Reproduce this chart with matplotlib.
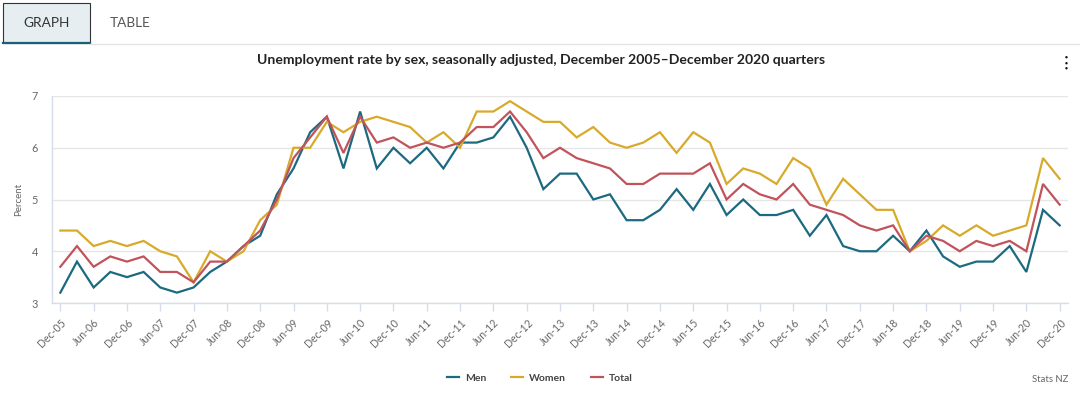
import matplotlib
matplotlib.use("Agg")
import matplotlib.pyplot as plt
from matplotlib.patches import Rectangle
from matplotlib.lines import Line2D

plt.rcParams['font.family'] = ['Lato', 'DejaVu Sans']

years = list(range(2005, 2021))
quarters = []
for y in years:
    for m in ["Mar", "Jun", "Sep", "Dec"]:
        if (y == 2005 and m != "Dec"):
            continue
        quarters.append(f"{m}-{str(y)[2:]}")

men = [3.2, 3.8, 3.3, 3.6, 3.5, 3.6, 3.3, 3.2, 3.3, 3.6, 3.8, 4.1, 4.3, 5.1, 5.6,
       6.3, 6.6, 5.6, 6.7, 5.6, 6.0, 5.7, 6.0, 5.6, 6.1, 6.1, 6.2, 6.6, 6.0, 5.2, 5.5, 5.5,
       5.0, 5.1, 4.6, 4.6, 4.8, 5.2, 4.8, 5.3, 4.7, 5.0, 4.7, 4.7, 4.8, 4.3, 4.7, 4.1, 4.0,
       4.0, 4.3, 4.0, 4.4, 3.9, 3.7, 3.8, 3.8, 4.1, 3.6, 4.8, 4.5]
women = [4.4, 4.4, 4.1, 4.2, 4.1, 4.2, 4.0, 3.9, 3.4, 4.0, 3.8, 4.0, 4.6, 4.9, 6.0,
         6.0, 6.5, 6.3, 6.5, 6.6, 6.5, 6.4, 6.1, 6.3, 6.0, 6.7, 6.7, 6.9, 6.7, 6.5, 6.5, 6.2,
         6.4, 6.1, 6.0, 6.1, 6.3, 5.9, 6.3, 6.1, 5.3, 5.6, 5.5, 5.3, 5.8, 5.6, 4.9, 5.4, 5.1,
         4.8, 4.8, 4.0, 4.2, 4.5, 4.3, 4.5, 4.3, 4.4, 4.5, 5.8, 5.4]
total = [3.7, 4.1, 3.7, 3.9, 3.8, 3.9, 3.6, 3.6, 3.4, 3.8, 3.8, 4.1, 4.4, 5.0, 5.8,
         6.2, 6.6, 5.9, 6.6, 6.1, 6.2, 6.0, 6.1, 6.0, 6.1, 6.4, 6.4, 6.7, 6.3, 5.8, 6.0, 5.8,
         5.7, 5.6, 5.3, 5.3, 5.5, 5.5, 5.5, 5.7, 5.0, 5.3, 5.1, 5.0, 5.3, 4.9, 4.8, 4.7, 4.5,
         4.4, 4.5, 4.0, 4.3, 4.2, 4.0, 4.2, 4.1, 4.2, 4.0, 5.3, 4.9]

series = [("Men", men, "#1c6a80"), ("Women", women, "#d8aa2c"), ("Total", total, "#c1535b")]
yticks = [3, 4, 5, 6, 7]

W, H = 1080, 393
fig = plt.figure(figsize=(W / 100, H / 100), dpi=100)
fig.patch.set_facecolor("white")

def fx(px):
    return px / W

def fy(py):
    return 1 - py / H

# Tabs
fig.add_artist(Rectangle((fx(3), fy(43)), fx(87), 40 / H, transform=fig.transFigure,
                         facecolor="#e6eef1", edgecolor="#333333", linewidth=0.8))
fig.add_artist(Line2D([fx(3), fx(90)], [fy(43), fy(43)], transform=fig.transFigure,
                      color="#1c5f78", linewidth=1.6))
fig.add_artist(Line2D([fx(90), fx(1080)], [fy(44), fy(44)], transform=fig.transFigure,
                      color="#e4e4e4", linewidth=1.0))
fig.text(fx(47), fy(23), "GRAPH", ha="center", va="center", fontsize=9.8, color="#333333")
fig.text(fx(130), fy(23), "TABLE", ha="center", va="center", fontsize=9.8, color="#555555")

fig.text(fx(541), fy(60), "Unemployment rate by sex, seasonally adjusted, December 2005\u2013December 2020 quarters",
         ha="center", va="center", fontsize=10.1, fontweight="bold", color="#222222")
for dy in (-5.5, 0, 5.5):
    fig.text(fx(1066), fy(63 + dy), "\u25cf", ha="center", va="center", fontsize=3.6, color="#111111")

ax = fig.add_axes([fx(52), fy(303), fx(1068 - 52), (303 - 96) / H])
x = list(range(len(quarters)))
for name, vals, col in series:
    ax.plot(x, vals, color=col, linewidth=1.6, label=name, solid_joinstyle="miter")

ax.set_xlim(-0.5, len(quarters) - 0.5)
ax.set_ylim(3, 7)
ax.set_yticks(yticks)
ax.set_yticklabels([str(v) for v in yticks], fontsize=7.8, color="#666666")
ax.set_xticks(x[::2])
ax.set_xticklabels(quarters[::2], rotation=45, ha="right", rotation_mode="anchor",
                   fontsize=7.6, color="#666666")
ax.tick_params(axis="y", length=0, pad=10)
ax.tick_params(axis="x", length=6, width=1, color="#d5dcea", pad=4)
ax.grid(axis="y", color="#e6e6e6", linewidth=1)
ax.set_axisbelow(True)
for s in ["top", "right"]:
    ax.spines[s].set_visible(False)
ax.spines["left"].set_color("#d5dcea")
ax.spines["bottom"].set_color("#d5dcea")
ax.spines["left"].set_linewidth(1)
ax.spines["bottom"].set_linewidth(1)
ax.set_ylabel("Percent", fontsize=7, color="#666666", labelpad=6)

leg = fig.legend(loc="center", bbox_to_anchor=(fx(540), fy(378)), ncol=3, frameon=False,
                 fontsize=7.5, handlelength=1.1, columnspacing=2.4, handletextpad=0.6)
for t in leg.get_texts():
    t.set_fontweight("bold")
    t.set_color("#444444")

fig.text(fx(1068), fy(380), "Stats NZ", ha="right", va="center", fontsize=6.8, color="#666666")

fig.savefig("out.png", dpi=100, facecolor="white")
